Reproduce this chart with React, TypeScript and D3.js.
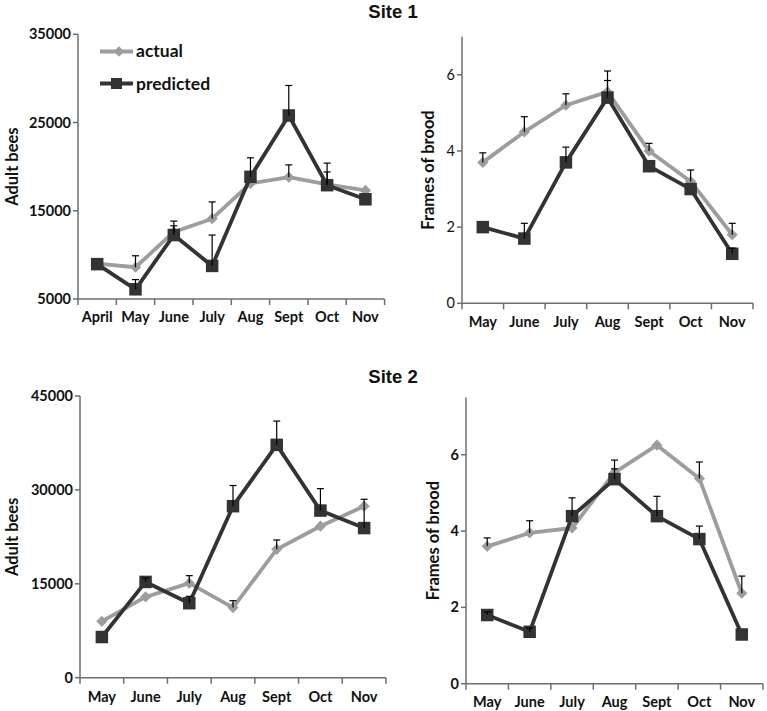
import React from "react";
import * as d3 from "d3";

const monthsS1Adult = ["April", "May", "June", "July", "Aug", "Sept", "Oct", "Nov"];
const monthsBrood = ["May", "June", "July", "Aug", "Sept", "Oct", "Nov"];

const s1AdultActual = [9000, 8600, 12600, 14100, 18100, 18800, 18000, 17300];
const s1AdultActualErr = [0, 1300, 700, 1900, 0, 1400, 1400, 0];
const s1AdultPred = [8950, 6100, 12250, 8750, 18850, 25800, 17900, 16300];
const s1AdultPredErr = [0, 1100, 1580, 3500, 2150, 3400, 2500, 0];

const s1BroodActual = [3.7, 4.5, 5.2, 5.55, 4.0, 3.2, 1.8];
const s1BroodActualErr = [0.25, 0.4, 0.3, 0.3, 0.2, 0.3, 0.3];
const s1BroodPred = [2.0, 1.7, 3.7, 5.4, 3.6, 3.0, 1.3];
const s1BroodPredErr = [0, 0.4, 0.4, 0.7, 0, 0, 0.15];

const s2AdultActual = [9000, 12900, 15100, 11200, 20500, 24200, 27400];
const s2AdultActualErr = [0, 0, 1200, 1100, 1500, 0, 0];
const s2AdultPred = [6500, 15300, 11900, 27400, 37200, 26700, 23900];
const s2AdultPredErr = [0, 600, 1100, 3300, 3800, 3500, 4600];

const s2BroodActual = [3.6, 3.95, 4.08, 5.53, 6.25, 5.38, 2.37];
const s2BroodActualErr = [0.22, 0.32, 0, 0.1, 0, 0.43, 0.45];
const s2BroodPred = [1.8, 1.36, 4.39, 5.36, 4.39, 3.79, 1.29];
const s2BroodPredErr = [0.08, 0.1, 0.48, 0.5, 0.52, 0.34, 0];

const yTicksS1Adult = [5000, 15000, 25000, 35000];
const yTicksS2Adult = [0, 15000, 30000, 45000];
const yTicksBrood = [0, 2, 4, 6];

const ACTUAL = "#9d9d9d";
const PRED = "#333333";
const AXIS = "#6e6e6e";
const FONT = "Lato, 'Open Sans', sans-serif";

type PanelProps = {
  left: number; right: number; top: number; bottom: number;
  domain: [number, number];
  ticks: number[];
  cats: string[];
  actual: number[]; actualErr: number[];
  pred: number[]; predErr: number[];
  yLabel: string; yLabelX: number;
  tickBold: boolean;
  xLabelY: number;
};

function Panel(p: PanelProps) {
  const x = d3.scaleBand().domain(p.cats).range([p.left, p.right]);
  const y = d3.scaleLinear().domain(p.domain).range([p.bottom, p.top]);
  const cx = (c: string) => (x(c) as number) + x.bandwidth() / 2;
  const line = d3.line<number>().x((_, i) => cx(p.cats[i])).y((v) => y(v));
  const diamond = d3.symbol().type(d3.symbolDiamond2).size(80)();
  const sq = 12.5;
  const errBars = (vals: number[], errs: number[], key: string) =>
    vals.map((v, i) =>
      errs[i] > 0 ? (
        <g key={key + i} stroke="#000" strokeWidth={1.2}>
          <line x1={cx(p.cats[i])} x2={cx(p.cats[i])} y1={y(v)} y2={y(v + errs[i])} />
          <line x1={cx(p.cats[i]) - 3.5} x2={cx(p.cats[i]) + 3.5} y1={y(v + errs[i])} y2={y(v + errs[i])} />
        </g>
      ) : null
    );
  const bandEdges = p.cats.map((c) => x(c) as number).concat([p.right]);
  const midY = (p.top + p.bottom) / 2;
  return (
    <g>
      <line x1={p.left} x2={p.left} y1={p.top} y2={p.bottom} stroke={AXIS} strokeWidth={1.5} />
      <line x1={p.left} x2={p.right} y1={p.bottom} y2={p.bottom} stroke={AXIS} strokeWidth={1.5} />
      {p.ticks.map((t) => (
        <g key={"yt" + t}>
          <line x1={p.left - 5} x2={p.left} y1={y(t)} y2={y(t)} stroke={AXIS} strokeWidth={1.5} />
          <text x={p.left - 7} y={y(t)} dy="0.35em" textAnchor="end" fontFamily={FONT}
            fontWeight={p.tickBold ? 700 : 400} fontSize={14.5} fill="#111">{t}</text>
        </g>
      ))}
      {bandEdges.map((e, i) => (
        <line key={"xt" + i} x1={e} x2={e} y1={p.bottom} y2={p.bottom + 6} stroke={AXIS} strokeWidth={1.5} />
      ))}
      {p.cats.map((c) => (
        <text key={"xl" + c} x={cx(c)} y={p.xLabelY} textAnchor="middle" fontFamily={FONT}
          fontWeight={700} fontSize={14.5} fill="#111">{c}</text>
      ))}
      <text transform={`translate(${p.yLabelX},${midY}) rotate(-90)`} textAnchor="middle" dy="0.35em"
        fontFamily={FONT} fontWeight={700} fontSize={16.5} fill="#111">{p.yLabel}</text>
      <path d={line(p.actual) as string} fill="none" stroke={ACTUAL} strokeWidth={3.8} strokeLinejoin="round" />
      {p.actual.map((v, i) => (
        <path key={"ad" + i} d={diamond as string} transform={`translate(${cx(p.cats[i])},${y(v)})`} fill={ACTUAL} />
      ))}
      <path d={line(p.pred) as string} fill="none" stroke={PRED} strokeWidth={3.8} strokeLinejoin="round" />
      {p.pred.map((v, i) => (
        <rect key={"ps" + i} x={cx(p.cats[i]) - sq / 2} y={y(v) - sq / 2} width={sq} height={sq} fill={PRED} />
      ))}
      {errBars(p.actual, p.actualErr, "ae")}
      {errBars(p.pred, p.predErr, "pe")}
    </g>
  );
}

export default function App() {
  const diamond = d3.symbol().type(d3.symbolDiamond2).size(70)();
  return (
    <svg width={767} height={711} style={{ position: "absolute", left: 0, top: 0 }}>
      <rect width={767} height={711} fill="#fff" />
      <text x={393} y={18} textAnchor="middle" fontFamily="'Liberation Sans', Arial, sans-serif"
        fontWeight={700} fontSize={18.5} fill="#111">Site 1</text>
      <text x={393} y={383} textAnchor="middle" fontFamily="'Liberation Sans', Arial, sans-serif"
        fontWeight={700} fontSize={18.5} fill="#111">Site 2</text>

      <Panel left={78} right={384.6} top={34.3} bottom={299} domain={[5000, 35000]} ticks={yTicksS1Adult}
        cats={monthsS1Adult} actual={s1AdultActual} actualErr={s1AdultActualErr} pred={s1AdultPred}
        predErr={s1AdultPredErr} yLabel="Adult bees" yLabelX={12} tickBold={true} xLabelY={321.5} />
      <Panel left={462} right={753} top={36.7} bottom={303.3} domain={[0, 7]} ticks={yTicksBrood}
        cats={monthsBrood} actual={s1BroodActual} actualErr={s1BroodActualErr} pred={s1BroodPred}
        predErr={s1BroodPredErr} yLabel="Frames of brood" yLabelX={428} tickBold={false} xLabelY={327} />
      <Panel left={80} right={386} top={396} bottom={677.7} domain={[0, 45000]} ticks={yTicksS2Adult}
        cats={monthsBrood} actual={s2AdultActual} actualErr={s2AdultActualErr} pred={s2AdultPred}
        predErr={s2AdultPredErr} yLabel="Adult bees" yLabelX={12} tickBold={true} xLabelY={701.5} />
      <Panel left={466} right={763} top={397.5} bottom={683.7} domain={[0, 7.5]} ticks={yTicksBrood}
        cats={monthsBrood} actual={s2BroodActual} actualErr={s2BroodActualErr} pred={s2BroodPred}
        predErr={s2BroodPredErr} yLabel="Frames of brood" yLabelX={433} tickBold={true} xLabelY={706.5} />

      <g>
        <line x1={100} x2={133} y1={51.5} y2={51.5} stroke={ACTUAL} strokeWidth={3.8} />
        <path d={diamond as string} transform="translate(119,51.5)" fill={ACTUAL} />
        <text x={136} y={57} fontFamily={FONT} fontWeight={700} fontSize={17.5} fill="#111">actual</text>
        <line x1={100} x2={133} y1={83.5} y2={83.5} stroke={PRED} strokeWidth={3.8} />
        <rect x={111} y={78} width={11} height={11} fill={PRED} />
        <text x={136} y={90} fontFamily={FONT} fontWeight={700} fontSize={17.5} fill="#111">predicted</text>
      </g>
    </svg>
  );
}
